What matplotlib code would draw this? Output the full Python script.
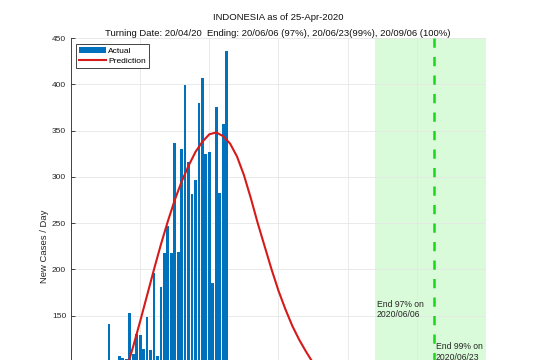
import pandas as pd
import matplotlib
matplotlib.use("Agg")
import matplotlib.pyplot as plt
from matplotlib.patches import Patch
from matplotlib.lines import Line2D

plt.rcParams["font.family"] = ["Liberation Sans", "DejaVu Sans"]

# daily new cases, Mar 11 .. Apr 24 2020
first_day = "2020-03-11"
new_cases = [7, 0, 35, 27, 21, 17, 38, 55, 82, 0, 141, 64, 65, 107, 104, 103,
             153, 109, 130, 129, 114,
             149, 113, 196, 106, 181, 218, 247, 218, 337, 219, 330, 399, 316,
             282, 297, 380, 407, 325, 327, 185, 375, 283, 357, 436]

# prediction curve (days since Mar 10)
pred_days = [0, 2, 4, 6, 8, 10, 12, 14, 16, 18, 20, 22, 24, 26, 28, 30, 32, 34,
             36, 38, 40, 42, 44, 46, 48, 50, 52, 54, 56, 58, 60, 62, 64, 66, 68,
             70, 72, 74, 76, 80, 84, 88, 92, 96, 100, 105, 110, 115, 120]
pred_vals = [8, 12, 18, 26, 36, 48, 62, 76, 92, 117, 144, 172, 200, 227, 252,
             275, 295, 312, 327, 338, 346, 348, 344, 336, 322, 302, 277, 250,
             225, 200, 177, 157, 139, 124, 111, 99, 88, 78, 69, 54, 42, 32, 25,
             19, 15, 11, 8, 6, 4]

origin = pd.Timestamp("2020-03-10")
end97 = "2020-06-06"
end99 = "2020-06-23"

dates = pd.date_range(first_day, periods=len(new_cases))
bar_x = [(d - origin).days for d in dates]
x97 = (pd.Timestamp(end97) - origin).days
x99 = (pd.Timestamp(end99) - origin).days

fig = plt.figure(figsize=(5.37, 3.6), dpi=100)
ax = fig.add_axes([0.1322, -0.2628, 0.7728, 1.1572])

ax.axvspan(x97, 120, color="#d9fbd9", zorder=0.2, lw=0)
ax.bar(bar_x, new_cases, width=0.8, color="#0072BD", zorder=1)
ax.plot(pred_days, pred_vals, color="#d61a1a", lw=1.5, zorder=2)
# dashed line drawn top-down so the dash pattern starts at the top
ax.plot([x99, x99], [450, 0], color="#18d818", lw=1.8, ls=(0, (3.7, 3.7)),
        zorder=2)

ax.text(x97 + 0.5, 157, "End 97% on\n2020/06/06", fontsize=6.2, va="center",
        ha="left", color="#262626")
ax.text(x99 + 0.5, 111, "End 99% on\n2020/06/23", fontsize=6.2, va="center",
        ha="left", color="#262626")

ax.set_xlim(0, 120)
ax.set_ylim(0, 450)
ax.set_xticks(range(0, 121, 20))
ax.set_yticks(range(0, 451, 50))
ax.grid(True, color="#e6e6e6", lw=0.6)
ax.set_axisbelow(True)
for s in ["top", "right"]:
    ax.spines[s].set_visible(False)
for s in ["left", "bottom"]:
    ax.spines[s].set_color("#262626")
    ax.spines[s].set_linewidth(0.6)
ax.tick_params(direction="in", length=3, width=0.6, labelsize=6,
               colors="#262626")
ax.tick_params(axis="x", labelbottom=False)
ax.set_ylabel("New Cases / Day", fontsize=6.8, color="#262626", labelpad=2)

fig.text(0.518, 0.95, "INDONESIA as of 25-Apr-2020", ha="center", va="center",
         fontsize=6.8, color="#111111")
fig.text(0.518, 0.908,
         "Turning Date: 20/04/20  Ending: 20/06/06 (97%), 20/06/23(99%), 20/09/06 (100%)",
         ha="center", va="center", fontsize=6.8, color="#111111")

handles = [Patch(facecolor="#0072BD", edgecolor="none"),
           Line2D([0], [0], color="#d61a1a", lw=1.5)]
leg = ax.legend(handles, ["Actual", "Prediction"], loc="upper left",
                bbox_to_anchor=(0.012, 0.985), borderaxespad=0, fontsize=6,
                fancybox=False, framealpha=1, edgecolor="#262626",
                handlelength=3.2, borderpad=0.35, labelspacing=0.3,
                handletextpad=0.3)
leg.get_frame().set_linewidth(0.6)

fig.savefig("out.png", dpi=100)
